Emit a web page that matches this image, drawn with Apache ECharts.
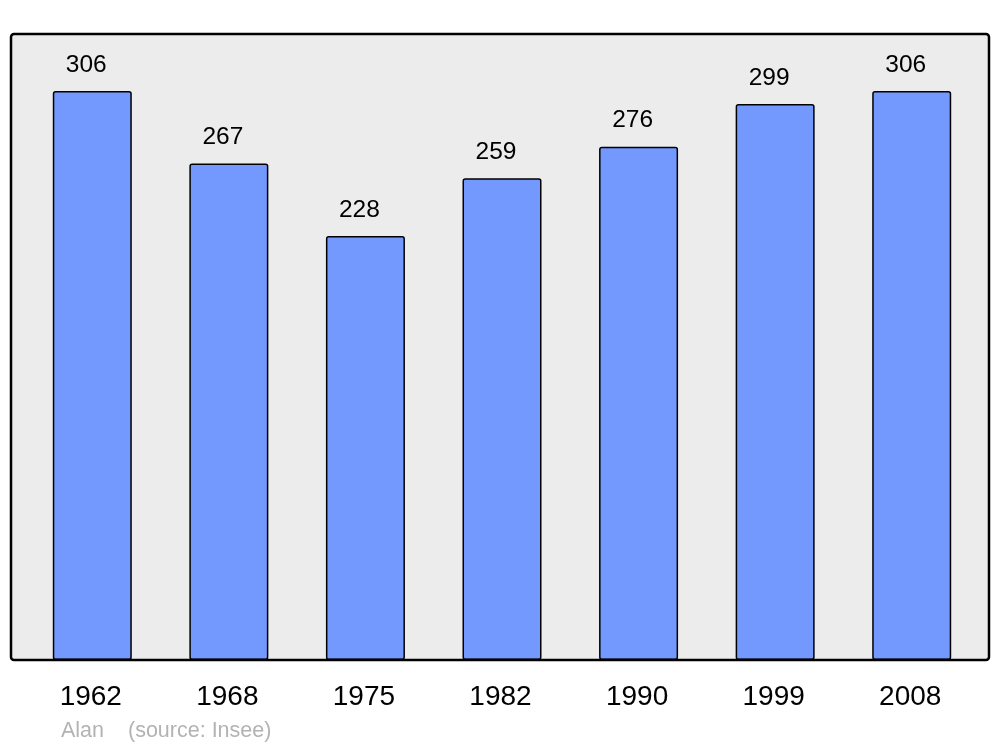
<!DOCTYPE html>
<html>
<head>
<meta charset="utf-8">
<script src="https://cdn.jsdelivr.net/npm/echarts@6/dist/echarts.min.js"></script>
<style>
html,body{margin:0;padding:0;background:#fff;}
#chart{width:1000px;height:747px;}
</style>
</head>
<body>
<div id="chart"></div>
<script>
var years = ['1962', '1968', '1975', '1982', '1990', '1999', '2008'];
var population = [306, 267, 228, 259, 276, 299, 306];
var footerAuthor = 'Alan';
var footerSource = '(source: Insee)';

var chart = echarts.init(document.getElementById('chart'), null, {renderer: 'canvas'});
var FONT = '"Liberation Sans", Arial, sans-serif';
var yMax = Math.max.apply(null, population) * 1.1;

chart.setOption({
  animation: false,
  backgroundColor: '#ffffff',
  graphic: [
    {
      type: 'rect', z: -10,
      shape: {x: 11, y: 34, width: 978, height: 626, r: 3},
      style: {fill: '#ececec', stroke: 'none'}
    },
    {
      type: 'rect', z: 100,
      shape: {x: 11, y: 34, width: 978, height: 626, r: 3},
      style: {fill: 'none', stroke: '#000000', lineWidth: 2.5}
    },
    {
      type: 'text', left: 61, top: 720,
      style: {text: footerAuthor, font: '21.5px ' + FONT, fill: '#b3b3b3'}
    },
    {
      type: 'text', left: 128, top: 720,
      style: {text: footerSource, font: '21.5px ' + FONT, fill: '#b3b3b3'}
    }
  ],
  grid: {left: 24, right: 20, top: 34, bottom: 87},
  xAxis: {
    type: 'category',
    data: years,
    axisLine: {show: false},
    axisTick: {show: false},
    axisLabel: {color: '#000', fontSize: 28, fontFamily: FONT, margin: 23, padding: [0, 3, 0, 0]}
  },
  yAxis: {
    type: 'value',
    min: 0,
    max: yMax,
    show: false,
    splitLine: {show: false}
  },
  series: [{
    type: 'bar',
    data: population,
    barWidth: 79,
    itemStyle: {color: '#7399ff', borderColor: '#000', borderWidth: 1.5, borderRadius: 2},
    label: {
      show: true, position: 'top', distance: 13.5, offset: [-6, 0],
      color: '#000', fontSize: 24.5, fontFamily: FONT
    }
  }]
});
</script>
</body>
</html>
